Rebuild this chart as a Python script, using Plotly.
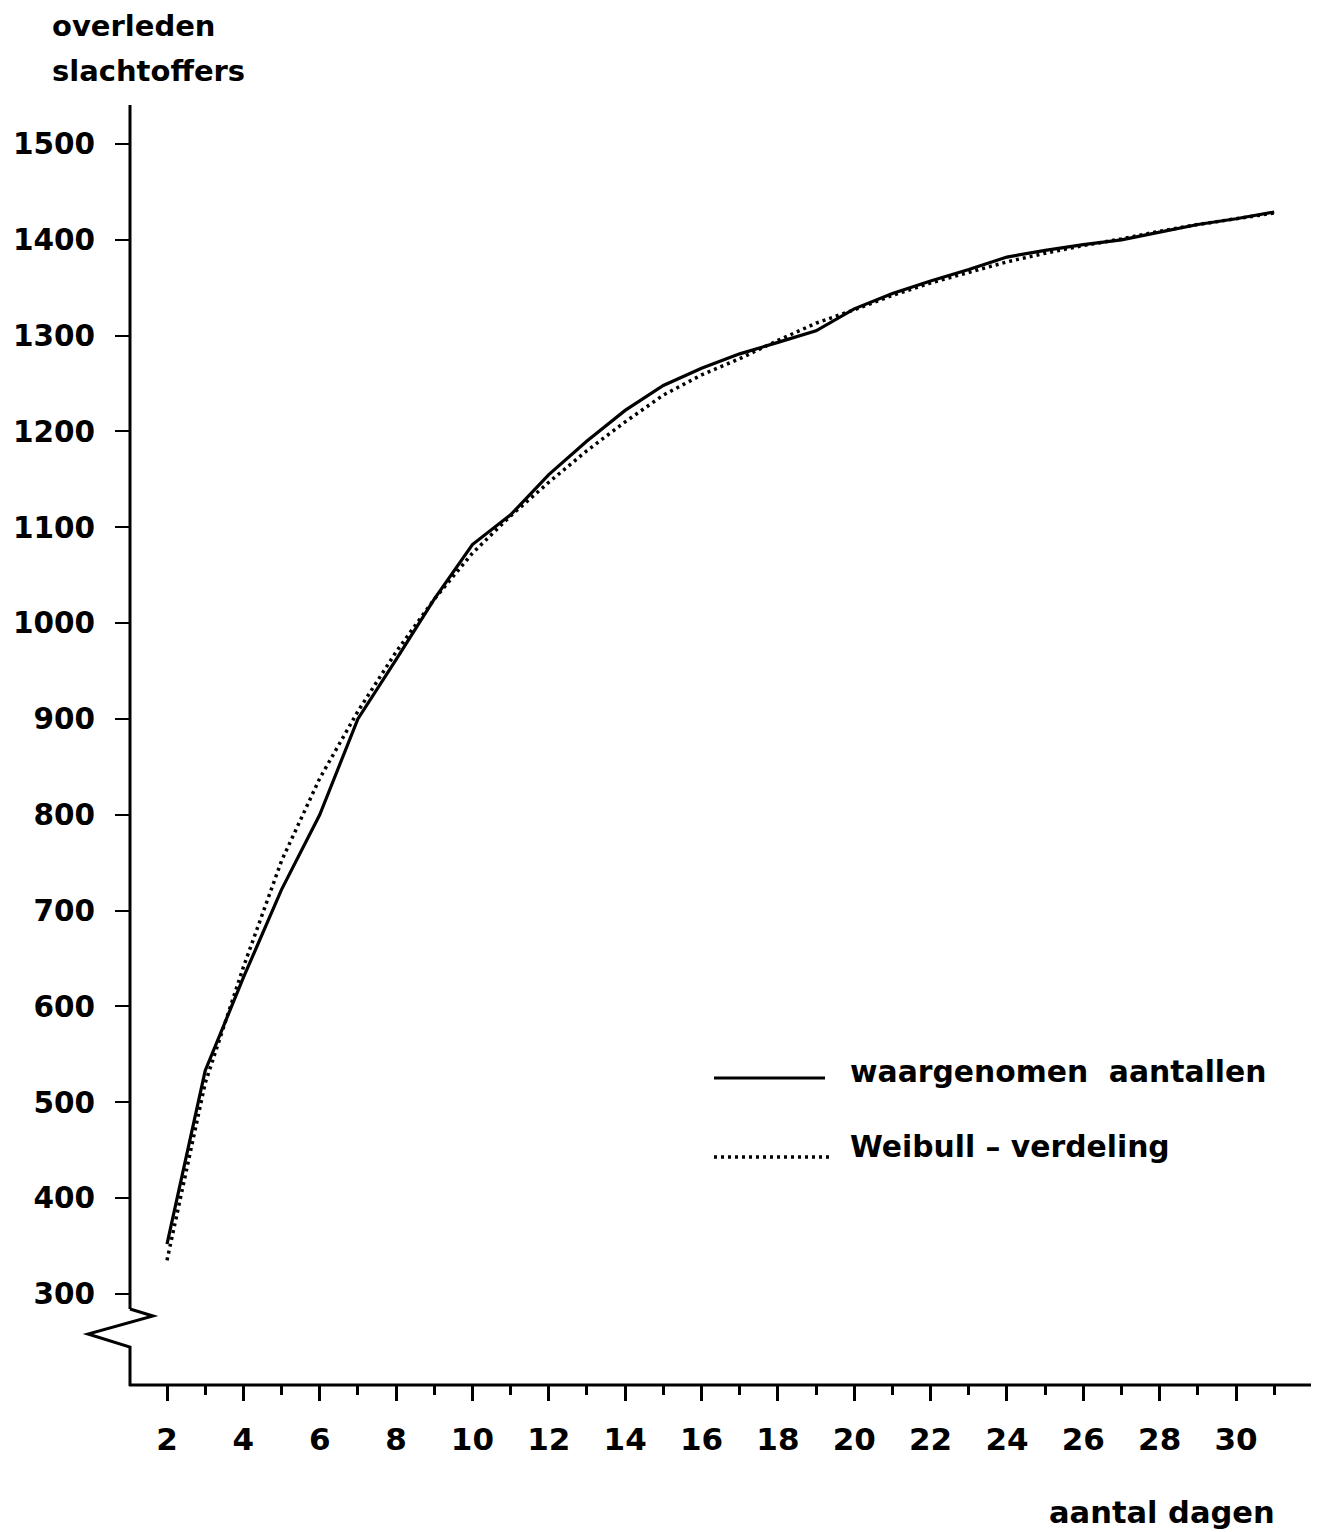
import plotly.graph_objects as go

# ---- data ----
days = list(range(2, 32))
observed = [352, 533, 630, 722, 800, 900, 962, 1025, 1082, 1113, 1155, 1190, 1222, 1248,
            1266, 1281, 1293, 1305, 1328, 1344, 1357, 1369, 1382, 1389, 1395, 1400, 1408,
            1416, 1422, 1429]
weibull = [335, 520, 641, 752, 838, 908, 970, 1025, 1073, 1112, 1147, 1180, 1210, 1238,
           1259, 1276, 1295, 1313, 1327, 1342, 1355, 1366, 1377, 1386, 1394, 1401, 1409,
           1416, 1422, 1428]
y_ticks = [300, 400, 500, 600, 700, 800, 900, 1000, 1100, 1200, 1300, 1400, 1500]
x_ticks = list(range(2, 31, 2))
series_names = ["waargenomen\u00a0\u00a0aantallen", "Weibull – verdeling"]
y_title = ["overleden", "slachtoffers"]
x_title = "aantal dagen"

# ---- layout geometry (pixels in the 1319x1532 window) ----
OFF = 8                      # default page body margin
W, H = 1319 - OFF, 1532 - OFF
L, R, T, B = 130, 1312, 105, 1385


def px(x):
    return (x - L) / (R - L)


def py(y):
    return (B - y) / (B - T)


FONT = "DejaVu Sans"
INK = "black"
DOT = "3px,4px"

fig = go.Figure()
fig.add_trace(go.Scatter(x=days, y=observed, mode="lines", name=series_names[0],
                         line=dict(color=INK, width=3.2), showlegend=False))
fig.add_trace(go.Scatter(x=days, y=weibull, mode="lines", name=series_names[1],
                         line=dict(color=INK, width=3.5, dash=DOT), showlegend=False))

shapes = []
# y axis line with break
shapes.append(dict(type="line", xref="paper", yref="paper", x0=px(130), x1=px(130),
                   y0=py(105), y1=py(1309), line=dict(color=INK, width=3)))
zig = [(130, 1309), (153, 1316), (88, 1334), (130, 1347), (130, 1386)]
path = "M " + " L ".join(f"{px(a):.5f},{py(b):.5f}" for a, b in zig)
shapes.append(dict(type="path", xref="paper", yref="paper", path=path,
                   line=dict(color=INK, width=3)))
# x axis line
shapes.append(dict(type="line", xref="paper", yref="paper", x0=px(129), x1=px(1312),
                   y0=py(1385), y1=py(1385), line=dict(color=INK, width=3)))
# legend samples
shapes.append(dict(type="line", xref="paper", yref="paper", x0=px(714), x1=px(825),
                   y0=py(1078), y1=py(1078), line=dict(color=INK, width=3)))
shapes.append(dict(type="line", xref="paper", yref="paper", x0=px(714), x1=px(830),
                   y0=py(1157), y1=py(1157), line=dict(color=INK, width=3.5, dash=DOT)))

annotations = []
for txt, yc in zip(y_title, [26, 71]):
    annotations.append(dict(text=txt, xref="paper", yref="paper", x=px(50), y=py(yc),
                            xanchor="left", yanchor="middle", showarrow=False,
                            font=dict(family=FONT, size=29, color=INK, weight="bold")))
annotations.append(dict(text=x_title, xref="paper", yref="paper", x=px(1047), y=py(1512),
                        xanchor="left", yanchor="middle", showarrow=False,
                        font=dict(family=FONT, size=30.5, color=INK, weight="bold")))
for txt, yc in zip(series_names, [1071, 1146]):
    annotations.append(dict(text=txt, xref="paper", yref="paper", x=px(848), y=py(yc),
                            xanchor="left", yanchor="middle", showarrow=False,
                            font=dict(family=FONT, size=29.8, color=INK, weight="bold")))

fig.update_layout(
    width=W, height=H,
    margin=dict(l=L - OFF, r=(W + OFF) - R, t=T - OFF, b=(H + OFF) - B, pad=0,
                autoexpand=False),
    paper_bgcolor="white", plot_bgcolor="white",
    shapes=shapes, annotations=annotations,
    xaxis=dict(range=[1.031, 31.99], tickvals=x_ticks, ticks="outside", ticklen=15,
               tickwidth=3, tickcolor=INK, showgrid=False, zeroline=False, showline=False,
               ticklabelstandoff=12, automargin=False,
               tickfont=dict(family=FONT, size=31, color=INK, weight="bold"),
               minor=dict(dtick=1, tick0=0, ticks="outside", ticklen=9, tickwidth=3,
                          tickcolor=INK, showgrid=False)),
    yaxis=dict(range=[205, 1540.7], tickvals=y_ticks, ticks="outside", ticklen=14,
               tickwidth=2, tickcolor=INK, showgrid=False, zeroline=False, showline=False,
               ticklabelstandoff=14, automargin=False,
               tickfont=dict(family=FONT, size=29.5, color=INK, weight="bold")),
    showlegend=False,
)

fig.write_html("out.html")
